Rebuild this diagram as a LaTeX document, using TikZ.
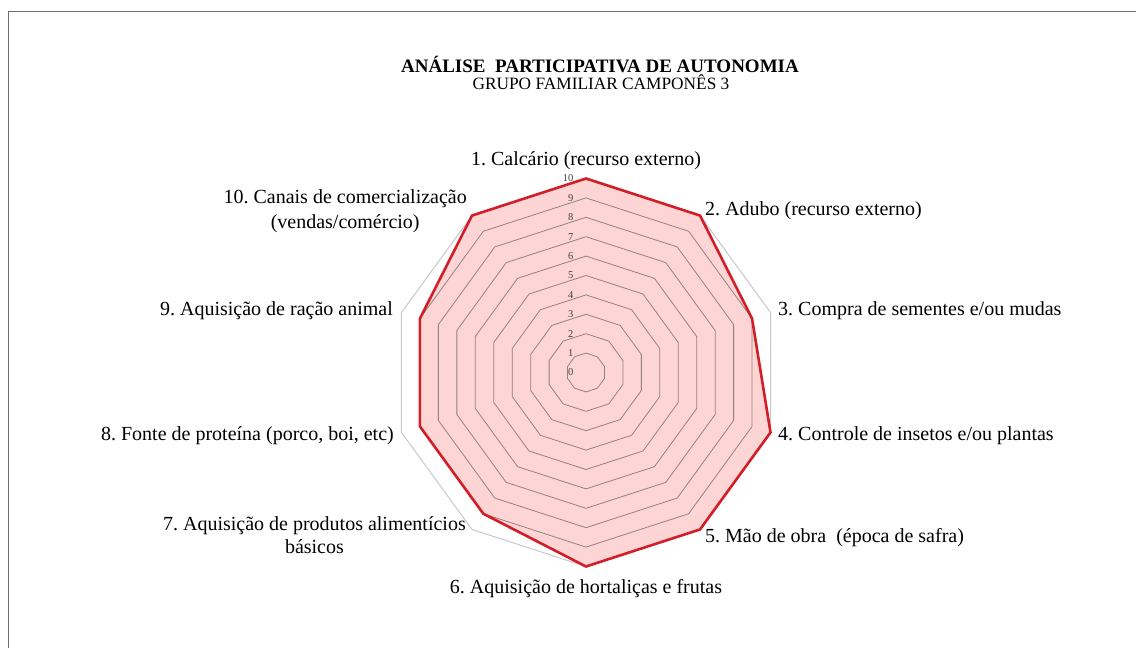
\documentclass[tikz,border=0pt]{standalone}
\usepackage{fontspec}
\setmainfont{Liberation Serif}
\frenchspacing
\definecolor{pinkfill}{RGB}{253,213,213}
\definecolor{serred}{RGB}{210,30,40}
\definecolor{gridin}{RGB}{150,128,128}
\definecolor{gridout}{RGB}{200,200,200}
\definecolor{tickgray}{RGB}{64,64,64}
\definecolor{bordergray}{RGB}{110,110,110}
\begin{document}
\begin{tikzpicture}[x=1bp,y=-1bp,
  lbl/.style={inner sep=0pt,font=\fontsize{20bp}{24bp}\selectfont},
  tick/.style={inner sep=0pt,font=\fontsize{10.5bp}{12bp}\selectfont,text=tickgray,anchor=east},
  gridinner/.style={draw=gridin,line width=0.8bp},
  gridouter/.style={draw=gridout,line width=1bp},
  series/.style={draw=serred,line width=2.6bp,line join=miter},
  frameline/.style={draw=bordergray,line width=1.3bp},
]
\useasboundingbox (0,0) rectangle (1136,648);
\fill[white] (0,0) rectangle (1136,648);
\draw[frameline] (1136,11.5) -- (8.5,11.5) -- (8.5,648);

\begin{scope}[shift={(586,372.5)}]
  % data vertices
  \coordinate (v1) at (-90:194);
  \coordinate (v2) at (-54:194);
  \coordinate (v3) at (-18:174.6);
  \coordinate (v4) at (18:194);
  \coordinate (v5) at (54:194);
  \coordinate (v6) at (90:194);
  \coordinate (v7) at (126:174.6);
  \coordinate (v8) at (162:174.6);
  \coordinate (v9) at (198:174.6);
  \coordinate (v10) at (234:194);
  % outer grid
  \draw[gridouter] (-90:194) \foreach \k in {1,...,9}{ -- ({\k*36-90}:194)} -- cycle;
  % fill
  \fill[pinkfill] (v1) -- (v2) -- (v3) -- (v4) -- (v5) -- (v6) -- (v7) -- (v8) -- (v9) -- (v10) -- cycle;
  % inner grid
  \foreach \l in {1,...,9}{
    \draw[gridinner] (-90:{\l*19.4}) \foreach \k in {1,...,9}{ -- ({\k*36-90}:{\l*19.4})} -- cycle;
  }
  % series
  \draw[series] (v1) -- (v2) -- (v3) -- (v4) -- (v5) -- (v6) -- (v7) -- (v8) -- (v9) -- (v10) -- cycle;
  % ticks
  \foreach \l in {0,...,10}{
    \node[tick] (t\l) at (-12.5,{-\l*19.4}) {\l};
  }
\end{scope}

\node[inner sep=0pt,anchor=base,font=\bfseries\fontsize{19bp}{22bp}\selectfont] (title) at (600,72.7) {ANÁLISE~~PARTICIPATIVA DE AUTONOMIA};
\node[inner sep=0pt,anchor=base,font=\fontsize{17.3bp}{20bp}\selectfont] (subtitle) at (601,90) {GRUPO FAMILIAR CAMPONÊS 3};

\node[lbl,anchor=base] (l1) at (586,166) {1. Calcário (recurso externo)};
\node[lbl,anchor=base west] (l2) at (705,216) {2. Adubo (recurso externo)};
\node[lbl,anchor=base west] (l3) at (778,316) {3. Compra de sementes e/ou mudas};
\node[lbl,anchor=base west] (l4) at (778,440.5) {4. Controle de insetos e/ou plantas};
\node[lbl,anchor=base west] (l5) at (705,542) {5. Mão de obra~~(época de safra)};
\node[lbl,anchor=base] (l6) at (586,593) {6. Aquisição de hortaliças e frutas};
\node[lbl,anchor=base east] (l7a) at (466,530) {7. Aquisição de produtos alimentícios};
\node[lbl,anchor=base] (l7b) at ([yshift=-23.5bp]l7a.base) {básicos};
\node[lbl,anchor=base east] (l8) at (394,440.5) {8. Fonte de proteína (porco, boi, etc)};
\node[lbl,anchor=base east] (l9) at (393,316) {9. Aquisição de ração animal};
\node[lbl,anchor=base east] (l10a) at (467,203.5) {10. Canais de comercialização};
\node[lbl,anchor=base] (l10b) at ([yshift=-25bp]l10a.base) {(vendas/comércio)};
\end{tikzpicture}
\end{document}
